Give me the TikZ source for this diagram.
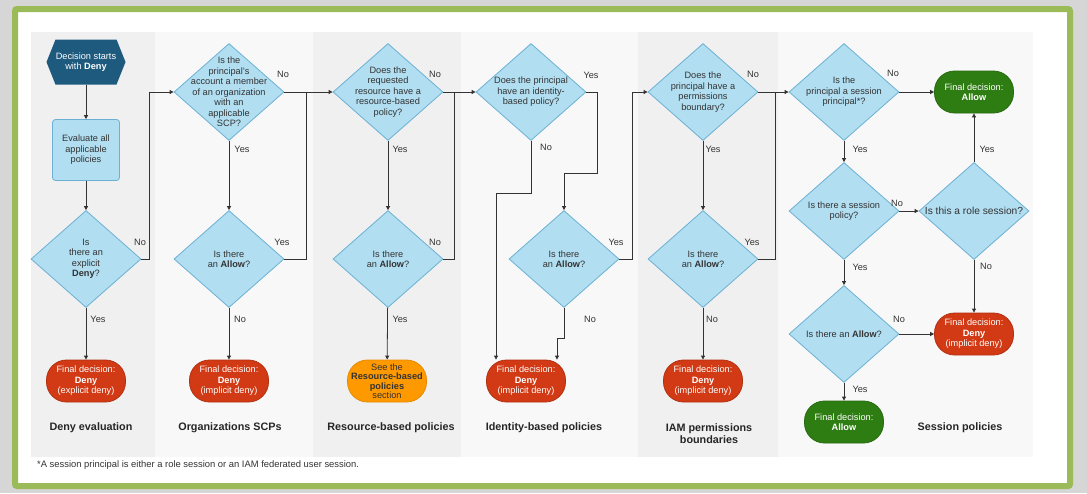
\documentclass[tikz,border=0pt]{standalone}
\usepackage{fontspec}
\setmainfont{Liberation Sans}
\usetikzlibrary{shapes.geometric,arrows.meta}

\definecolor{bggrey}{HTML}{D6D6D6}
\definecolor{framegreen}{HTML}{9BBB59}
\definecolor{paneldark}{HTML}{F0F0F0}
\definecolor{panellight}{HTML}{F8F8F8}
\definecolor{qblue}{HTML}{B1DEF1}
\definecolor{qedge}{HTML}{6CB0D3}
\definecolor{hexblue}{HTML}{1D5A7E}
\definecolor{denyred}{HTML}{D13A14}
\definecolor{allowgreen}{HTML}{2E7D12}
\definecolor{seeorange}{HTML}{FF9900}
\definecolor{textgrey}{HTML}{333333}

\begin{document}
\begin{tikzpicture}[x=1pt, y=-1pt,
	every node/.style = {font=\fontsize{9.2}{10.5}\selectfont, text=textgrey, align=center},
	decision/.style = {diamond, shape aspect=1.13, minimum width=110pt, minimum height=97pt,
		inner sep=0pt, fill=qblue, draw=qedge, line width=0.8pt},
	process/.style = {rectangle, rounded corners=3pt, minimum width=67pt, minimum height=61pt,
		fill=qblue, draw=qedge, line width=0.8pt},
	startnode/.style = {rectangle, minimum width=79pt, minimum height=45pt, inner sep=0pt,
		text=white, path picture={
			\fill[hexblue] (path picture bounding box.west)
				-- ([xshift=9pt]path picture bounding box.north west)
				-- ([xshift=-9pt]path picture bounding box.north east)
				-- (path picture bounding box.east)
				-- ([xshift=-9pt]path picture bounding box.south east)
				-- ([xshift=9pt]path picture bounding box.south west) -- cycle;}},
	final/.style = {rectangle, rounded corners=20pt, minimum width=79pt, minimum height=42pt,
		inner sep=0pt, text=white, line width=0.8pt},
	deny/.style = {final, fill=denyred, draw=denyred!85!black},
	allow/.style = {final, fill=allowgreen, draw=allowgreen!85!black},
	see/.style = {final, fill=seeorange, draw=seeorange!90!black, text=black!80,
		font=\fontsize{9.2}{9.5}\selectfont},
	heading/.style = {font=\fontsize{10.8}{12}\selectfont\bfseries, text=black!85},
	yn/.style = {inner sep=0pt},
	flow/.style = {draw=textgrey, line width=0.8pt, -{Triangle[length=4pt,width=4pt]}}]

	% background, frame and columns
	\useasboundingbox (0,0) rectangle (1087,493);
	\fill[bggrey] (0,0) rectangle (1087,493);
	\draw[framegreen, line width=6pt, fill=white, rounded corners=2pt] (15,9) rectangle (1070,486);
	\fill[paneldark] (31,32) rectangle (155,457);
	\fill[panellight] (155,32) rectangle (313,457);
	\fill[paneldark] (313,32) rectangle (461,457);
	\fill[panellight] (461,32) rectangle (638,457);
	\fill[paneldark] (638,32) rectangle (778,457);
	\fill[panellight] (778,32) rectangle (1033,457);

	% deny evaluation
	\node[startnode] (start) at (86,62) {Decision starts\\with \textbf{Deny}};
	\node[process] (eval) at (86,150) {Evaluate all\\applicable\\policies};
	\node[decision, label={center:Is\\there an\\explicit\\\textbf{Deny}?}] (explicit) at (86,259) {};
	\node[deny] (deny1) at (86,381) {Final decision:\\\textbf{Deny}\\(explicit deny)};

	% organizations SCPs
	\node[decision, label={center:Is the\\principal's\\account a member\\of an organization\\with an\\applicable\\SCP?}] (scp) at (229,92) {};
	\node[decision, label={center:Is there\\an \textbf{Allow}?}] (scpallow) at (229,259) {};
	\node[deny] (deny2) at (229,381) {Final decision:\\\textbf{Deny}\\(implicit deny)};

	% resource-based policies
	\node[decision, label={center:Does the\\requested\\resource have a\\resource-based\\policy?}] (rbp) at (388,92) {};
	\node[decision, label={center:Is there\\an \textbf{Allow}?}] (rbpallow) at (388,259) {};
	\node[see] (seerbp) at (387,381) {See the\\\textbf{Resource-based}\\\textbf{policies}\\section};

	% identity-based policies
	\node[decision, label={center:Does the principal\\have an identity-\\based policy?}] (ibp) at (531,92) {};
	\node[decision, label={center:Is there\\an \textbf{Allow}?}] (ibpallow) at (564,259) {};
	\node[deny] (deny4) at (526,381) {Final decision:\\\textbf{Deny}\\(implicit deny)};

	% permissions boundaries
	\node[decision, label={center:Does the\\principal have a\\permissions\\boundary?}] (pb) at (703,92) {};
	\node[decision, label={center:Is there\\an \textbf{Allow}?}] (pballow) at (703,259) {};
	\node[deny] (deny5) at (703,381) {Final decision:\\\textbf{Deny}\\(implicit deny)};

	% session policies
	\node[decision, label={center:Is the\\principal a session\\principal*?}] (sp) at (844,92) {};
	\node[decision, label={center:Is there a session\\policy?}] (spol) at (844,211) {};
	\node[decision, label={[font=\fontsize{10.2}{12}\selectfont]center:Is this a role session?}] (role) at (974,211) {};
	\node[decision, label={center:Is there an \textbf{Allow}?}] (spallow) at (844,334) {};
	\node[allow] (allow1) at (974,92) {Final decision:\\\textbf{Allow}};
	\node[deny] (deny6) at (974,334) {Final decision:\\\textbf{Deny}\\(implicit deny)};
	\node[allow] (allow2) at (844,422) {Final decision:\\\textbf{Allow}};

	% column titles
	\node[heading] (h1) at (91,428) {Deny evaluation};
	\node[heading] (h2) at (230,428) {Organizations SCPs};
	\node[heading] (h3) at (391,428) {Resource-based policies};
	\node[heading] (h4) at (544,428) {Identity-based policies};
	\node[heading] (h5) at (709,434) {IAM permissions\\boundaries};
	\node[heading] (h6) at (960,428) {Session policies};
	\node[anchor=west, inner sep=0pt, font=\fontsize{9.4}{11}\selectfont] (note) at (37,465)
		{*A session principal is either a role session or an IAM federated user session.};

	% bends
	\coordinate (j1) at (149,92);
	\coordinate (j2) at (306,92);
	\coordinate (j3) at (454,92);
	\coordinate (j4a) at (597,173);
	\coordinate (j4b) at (496,193);
	\coordinate (j4c) at (557,338);
	\coordinate (j4d) at (632,92);
	\coordinate (j5) at (775,92);

	\draw[flow] (start) -- (eval);
	\draw[flow] (eval) -- (explicit);
	\draw[flow] (explicit) -- (deny1);
	\draw[flow] (explicit.east) -| (j1) -- (scp.west);

	\draw[flow] (scp) -- (scpallow);
	\draw[flow] (scpallow) -- (deny2);
	\draw[flow] (scp.east) -- (rbp.west);
	\draw[flow, -] (scpallow.east) -| (j2);

	\draw[flow] (rbp) -- (rbpallow);
	\draw[flow] (rbpallow) -- (seerbp);
	\draw[flow] (rbp.east) -- (ibp.west);
	\draw[flow, -] (rbpallow.east) -| (j3);

	\draw[flow] (ibp.east) -| (j4a) -| (ibpallow.north);
	\draw[flow] (ibp.south) |- (j4b) -- (j4b |- deny4.north);
	\draw[flow] (ibpallow.south) |- (j4c) -- (j4c |- deny4.north);
	\draw[flow] (ibpallow.east) -| (j4d) -- (pb.west);

	\draw[flow] (pb) -- (pballow);
	\draw[flow] (pballow) -- (deny5);
	\draw[flow] (pb.east) -- (sp.west);
	\draw[flow, -] (pballow.east) -| (j5);

	\draw[flow] (sp) -- (allow1);
	\draw[flow] (sp) -- (spol);
	\draw[flow] (spol) -- (role);
	\draw[flow] (role) -- (allow1);
	\draw[flow] (role) -- (deny6);
	\draw[flow] (spol) -- (spallow);
	\draw[flow] (spallow) -- (deny6);
	\draw[flow] (spallow) -- (allow2);

	% yes / no
	\foreach \t/\x/\y [count=\i] in {No/140/242, Yes/98/319, No/283/74, Yes/242/149, Yes/282/242,
		No/240/319, No/435/74, Yes/400/149, No/435/242, Yes/400/319, Yes/591/75, No/546/147,
		Yes/616/242, No/590/319, No/753/74, Yes/713/149, Yes/752/242, No/712/319, No/893/73,
		Yes/860/149, No/897/203, Yes/987/149, Yes/860/267, No/986/266, No/899/319, Yes/860/389}
		\node[yn] (yn\i) at (\x,\y) {\t};
\end{tikzpicture}
\end{document}
